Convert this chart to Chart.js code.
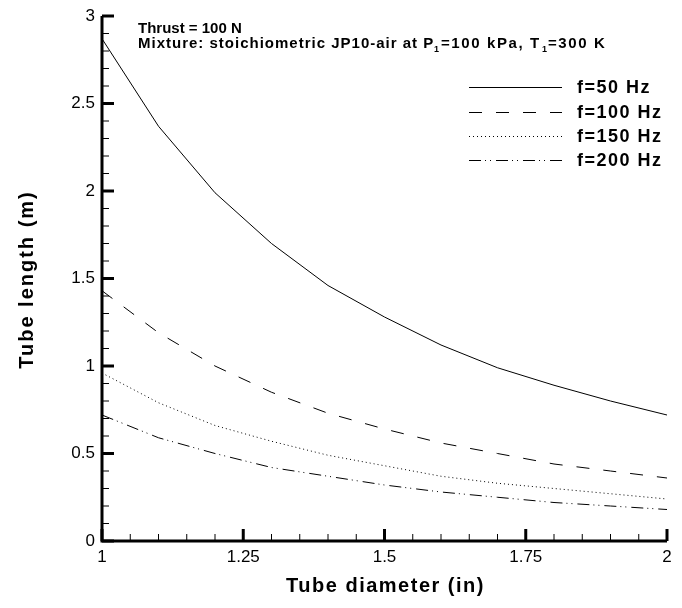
<!DOCTYPE html>
<html>
<head>
<meta charset="utf-8">
<script src="https://cdn.jsdelivr.net/npm/chart.js@4/dist/chart.umd.min.js"></script>
<style>
  html, body { margin: 0; padding: 0; background: #fff; }
  #wrap { width: 682px; height: 608px; position: relative; }
</style>
</head>
<body>
<div id="wrap"><canvas id="tubeChart"></canvas></div>
<script>
// tube diameter (in)
const diameters = [1, 1.1, 1.2, 1.3, 1.4, 1.5, 1.6, 1.7, 1.8, 1.9, 2];
// tube length (m) per firing frequency
const len50  = [2.87, 2.37, 1.99, 1.70, 1.46, 1.28, 1.12, 0.99, 0.89, 0.80, 0.72];
const len100 = [1.43, 1.19, 1.00, 0.85, 0.73, 0.64, 0.56, 0.50, 0.44, 0.40, 0.36];
const len150 = [0.96, 0.79, 0.66, 0.57, 0.49, 0.43, 0.37, 0.33, 0.30, 0.27, 0.24];
const len200 = [0.72, 0.59, 0.50, 0.42, 0.37, 0.32, 0.28, 0.25, 0.22, 0.20, 0.18];
const seriesLabels = ["f=50 Hz", "f=100 Hz", "f=150 Hz", "f=200 Hz"];

// axis frame and tick positions (data units)
const frameX = [1, 1, 2];
const frameY = [3, 0, 0];
const xMajor = [1, 1.25, 1.5, 1.75, 2];
const xMinor = [1.05, 1.1, 1.15, 1.2, 1.3, 1.35, 1.4, 1.45, 1.55, 1.6, 1.65, 1.7, 1.8, 1.85, 1.9, 1.95];
const yMajor = [0, 0.5, 1, 1.5, 2, 2.5, 3];
const yMinor = [0.1, 0.2, 0.3, 0.4, 0.6, 0.7, 0.8, 0.9, 1.1, 1.2, 1.3, 1.4, 1.6, 1.7, 1.8, 1.9,
                2.1, 2.2, 2.3, 2.4, 2.6, 2.7, 2.8, 2.9];

const FONT = "'Liberation Sans', Arial, Helvetica, sans-serif";

function makeSet(label, ys, dash) {
  return {
    label: label,
    data: diameters.map((d, i) => ({ x: d, y: ys[i] })),
    borderColor: "#000",
    borderWidth: 1,
    borderDash: dash,
    pointRadius: 0,
    tension: 0
  };
}

// inward tick marks drawn as "dash" points
function tickSet(points, len, width, rotation) {
  return {
    label: "",
    data: points,
    showLine: false,
    pointStyle: "dash",
    pointRotation: rotation,
    pointRadius: len,
    pointHoverRadius: len,
    pointBorderWidth: width,
    pointBorderColor: "#000",
    pointBackgroundColor: "#000",
    clip: false
  };
}

const series = [
  makeSet(seriesLabels[0], len50, []),
  makeSet(seriesLabels[1], len100, [13, 14]),
  makeSet(seriesLabels[2], len150, [1, 3]),
  makeSet(seriesLabels[3], len200, [12, 4, 1, 4, 1, 5])
];

const frame = {
  label: "",
  data: frameX.map((x, i) => ({ x: x, y: frameY[i] })),
  borderColor: "#000",
  borderWidth: 3,
  borderJoinStyle: "miter",
  pointRadius: 0,
  tension: 0,
  clip: false
};

// axis titles, notes and legend
const notes = {
  id: "notes",
  afterDraw(chart) {
    const ctx = chart.ctx;
    const xs = chart.scales.x;
    const ys = chart.scales.y;
    ctx.save();
    ctx.fillStyle = "#000";
    ctx.strokeStyle = "#000";

    ctx.font = "bold 20px " + FONT;
    ctx.textBaseline = "middle";
    ctx.textAlign = "center";
    ctx.letterSpacing = "1.5px";
    ctx.fillText("Tube diameter (in)", (xs.left + xs.right) / 2 + 1, 586);
    ctx.save();
    ctx.translate(27, (ys.top + ys.bottom) / 2 + 1);
    ctx.rotate(-Math.PI / 2);
    ctx.letterSpacing = "2px";
    ctx.fillText("Tube length (m)", 0, 0);
    ctx.restore();

    ctx.textBaseline = "alphabetic";
    ctx.textAlign = "left";
    ctx.letterSpacing = "0px";
    const big = "bold 15px " + FONT;
    const sub = "bold 9px " + FONT;
    ctx.font = big;
    ctx.fillText("Thrust = 100 N", 138, 33);
    const parts = [
      ["Mixture: stoichiometric JP10-air at P", big, 138, 48, "1px"],
      ["1", sub, 434, 52, "0px"],
      ["=100 kPa, T", big, 441, 48, "1.6px"],
      ["1", sub, 542, 52, "0px"],
      ["=300 K", big, 548, 48, "1.6px"]
    ];
    parts.forEach(p => {
      ctx.font = p[1];
      ctx.letterSpacing = p[4];
      ctx.fillText(p[0], p[2], p[3]);
    });

    const rows = [87, 112, 136, 160];
    series.forEach((ds, i) => {
      ctx.lineWidth = 1;
      ctx.setLineDash(ds.borderDash || []);
      ctx.beginPath();
      ctx.moveTo(469, rows[i] + 0.5);
      ctx.lineTo(562, rows[i] + 0.5);
      ctx.stroke();
      ctx.setLineDash([]);
      ctx.font = "bold 18px " + FONT;
      ctx.letterSpacing = "1.5px";
      ctx.textBaseline = "middle";
      ctx.fillText(ds.label, 577, rows[i] + 1);
    });
    ctx.letterSpacing = "0px";
    ctx.restore();
  }
};

const tickFont = { family: FONT, size: 17 };

new Chart(document.getElementById("tubeChart"), {
  type: "line",
  data: {
    datasets: series.concat([
      frame,
      tickSet(xMinor.map(x => ({ x: x, y: 0 })), 7, 1, -90),
      tickSet(xMajor.map(x => ({ x: x, y: 0 })), 12, 3, -90),
      tickSet(yMinor.map(y => ({ x: 1, y: y })), 7, 1, 0),
      tickSet(yMajor.map(y => ({ x: 1, y: y })), 12, 3, 0)
    ])
  },
  options: {
    responsive: true,
    maintainAspectRatio: false,
    animation: false,
    events: [],
    layout: { padding: { top: 16, right: 0, left: 0, bottom: 0 } },
    plugins: {
      legend: { display: false },
      tooltip: { enabled: false }
    },
    scales: {
      x: {
        type: "linear",
        min: 1,
        max: 2,
        grid: { display: false, drawTicks: true, tickLength: 6 },
        border: { display: false },
        ticks: {
          stepSize: 0.25,
          padding: 0,
          color: "#000",
          font: tickFont,
          maxRotation: 0,
          callback: v => String(+v.toFixed(2))
        },
        afterFit: s => { s.height = 67; }
      },
      y: {
        type: "linear",
        min: 0,
        max: 3,
        grid: { display: false, drawTicks: true, tickLength: 7 },
        border: { display: false },
        ticks: {
          stepSize: 0.5,
          padding: 0,
          color: "#000",
          font: tickFont,
          callback: v => String(+v.toFixed(2))
        },
        afterFit: s => { s.width = 102; }
      }
    }
  },
  plugins: [notes]
});
</script>
</body>
</html>
